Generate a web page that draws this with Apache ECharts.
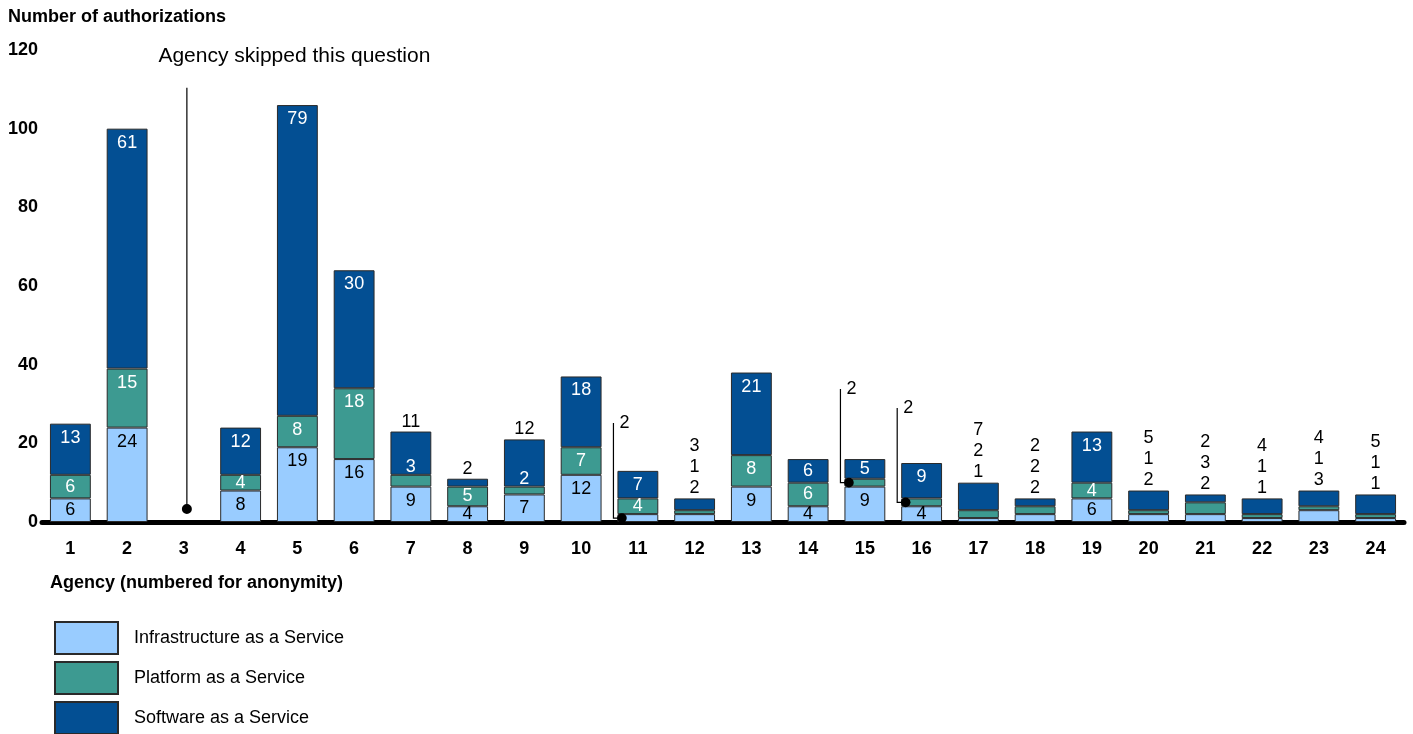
<!DOCTYPE html>
<html><head><meta charset="utf-8">
<script src="https://cdn.jsdelivr.net/npm/echarts@6/dist/echarts.min.js"></script>
<style>html,body{margin:0;padding:0;background:#fff}#c{width:1413px;height:734px}</style>
</head><body><div id="c"></div>
<script>
// ---- data ----
const agencies = ['1','2','3','4','5','6','7','8','9','10','11','12','13','14','15','16','17','18','19','20','21','22','23','24'];
const iaas = [6,24,0,8,19,16,9,4,7,12,2,2,9,4,9,4,1,2,6,2,2,1,3,1];
const paas = [6,15,0,4,8,18,3,5,2,7,4,1,8,6,2,2,2,2,4,1,3,1,1,1];
const saas = [13,61,0,12,79,30,11,2,12,18,7,3,21,6,5,9,7,2,13,5,2,4,4,5];
const skippedAgency = 2; // index of agency 3
const yTicks = [0,20,40,60,80,100,120];
const seriesNames = ['Infrastructure as a Service','Platform as a Service','Software as a Service'];

// ---- styling / layout ----
const colors = ['#99ccff','#3d9a91','#034f93'];
const FONT = '"Liberation Sans", Arial, Helvetica, sans-serif';
// label layout per agency
const labelMode = ['in','in','skip','in','in','in','top2','top1','top2','in','callI','stack','in','in','callP','callP','stack','stack','in','stack','stack','stack','stack','stack'];
// callout label heights (axis units)
const callouts = [
  {i:10, seg:0, labelAt:25.2},
  {i:14, seg:1, labelAt:33.8},
  {i:15, seg:1, labelAt:29.0}
];
const skipNote = {text:'Agency skipped this question', dotAt:3.3, lineTop:110.4, textAt:118.3};

function insideLabel(v, color){
  return {show:true, position: v>=8 ? 'insideTop' : 'inside', distance:5, color, fontSize:18, fontFamily:FONT};
}
const hidden = {show:false};
function build(arr, seg){
  return arr.map((v,i)=>{
    const m = labelMode[i];
    if (m==='skip') return {value:'-'};
    let label;
    if (seg===0){
      label = (m==='stack'||m==='callI') ? hidden : insideLabel(v,'#000');
    } else if (seg===1){
      if (m==='stack'||m==='callP') label = hidden;
      else if (m==='top2') label = {show:true, position:'top', distance:-1, color:'#fff', fontSize:18, lineHeight:18, fontFamily:FONT};
      else label = insideLabel(v,'#fff');
    } else {
      if (m==='stack') label = {show:true, position:'top', distance:0, lineHeight:21, fontSize:18, fontFamily:FONT, color:'#000',
        formatter: saas[i] + '\n' + paas[i] + '\n' + iaas[i]};
      else if (m==='top1'||m==='top2') label = {show:true, position:'top', distance:1, lineHeight:18, color:'#000', fontSize:18, fontFamily:FONT};
      else label = insideLabel(v,'#fff');
    }
    return {value:v, label};
  });
}

const calloutData = callouts.map(c=>{
  const base = c.seg===0 ? 0 : iaas[c.i];
  const segVal = c.seg===0 ? iaas[c.i] : paas[c.i];
  return [c.i, base + segVal/2, c.labelAt, segVal];
});

function renderCallout(params, api){
  const i = api.value(0);
  const p = api.coord([i, api.value(1)]);
  const top = api.coord([i, api.value(2)]);
  const band = api.size([1,0])[0];
  const dotX = p[0] - band*0.36 + 4.5;
  const lineX = dotX - 8.5;
  return {type:'group', children:[
    {type:'polyline', shape:{points:[[lineX, top[1]],[lineX,p[1]],[dotX,p[1]]]}, style:{stroke:'#000', lineWidth:1.2, fill:'none'}},
    {type:'circle', shape:{cx:dotX, cy:p[1], r:4.8}, style:{fill:'#000'}},
    {type:'text', x:lineX+6, y:top[1], style:{text:String(api.value(3)), fill:'#000', font:'18px '+FONT,
      textAlign:'left', textVerticalAlign:'middle', align:'left', verticalAlign:'middle'}}
  ]};
}

function renderSkip(params, api){
  const i = api.value(0);
  const dot = api.coord([i, skipNote.dotAt]);
  const top = api.coord([i, skipNote.lineTop]);
  const txt = api.coord([i, skipNote.textAt]);
  const x = dot[0] + 3;
  return {type:'group', children:[
    {type:'line', shape:{x1:x, y1:top[1], x2:x, y2:dot[1]}, style:{stroke:'#000', lineWidth:1.2}},
    {type:'circle', shape:{cx:x, cy:dot[1], r:5}, style:{fill:'#000'}},
    {type:'text', x:dot[0]-25.5, y:txt[1], style:{text:skipNote.text, fill:'#000', font:'21px '+FONT,
      textAlign:'left', textVerticalAlign:'middle', align:'left', verticalAlign:'middle'}}
  ]};
}

const barSeries = [iaas, paas, saas].map((arr, k)=>({
  name: seriesNames[k], type:'bar', stack:'total', barCategoryGap:'28%',
  itemStyle:{color:colors[k], borderColor:'#2a2a2a', borderWidth:1},
  data: build(arr, k)
}));

const option = {
  animation:false,
  textStyle:{fontFamily:FONT},
  title:[
    {text:'Number of authorizations', left:8, top:8, padding:0, textStyle:{fontSize:18, fontWeight:'bold', color:'#000', fontFamily:FONT}},
    {text:'Agency (numbered for anonymity)', left:50, top:574, padding:0, textStyle:{fontSize:18, fontWeight:'bold', color:'#000', fontFamily:FONT}}
  ],
  legend:{
    data:seriesNames, orient:'vertical', left:54, top:621, height:140, padding:0,
    itemWidth:63, itemHeight:32, itemGap:6, icon:'rect', selectedMode:false,
    textStyle:{fontSize:18, color:'#000', fontFamily:FONT, padding:[0,0,0,11]}
  },
  grid:{left:42, right:9, top:50, bottom:212, containLabel:false},
  xAxis:{
    type:'category', data:agencies, offset:2,
    axisLine:{lineStyle:{color:'#000', width:5}},
    axisTick:{show:false},
    axisLabel:{fontSize:18, fontWeight:'bold', color:'#000', margin:16, fontFamily:FONT}
  },
  yAxis:{
    type:'value', min:yTicks[0], max:yTicks[yTicks.length-1], interval:yTicks[1]-yTicks[0],
    axisLine:{show:false}, axisTick:{show:false}, splitLine:{show:false},
    axisLabel:{fontSize:18, fontWeight:'bold', color:'#000', margin:4, fontFamily:FONT}
  },
  series:[
    ...barSeries,
    {type:'custom', z:5, renderItem:renderCallout, data:calloutData, silent:true},
    {type:'custom', z:5, renderItem:renderSkip, data:[[skippedAgency]], silent:true}
  ]
};
echarts.init(document.getElementById('c')).setOption(option);
</script></body></html>
